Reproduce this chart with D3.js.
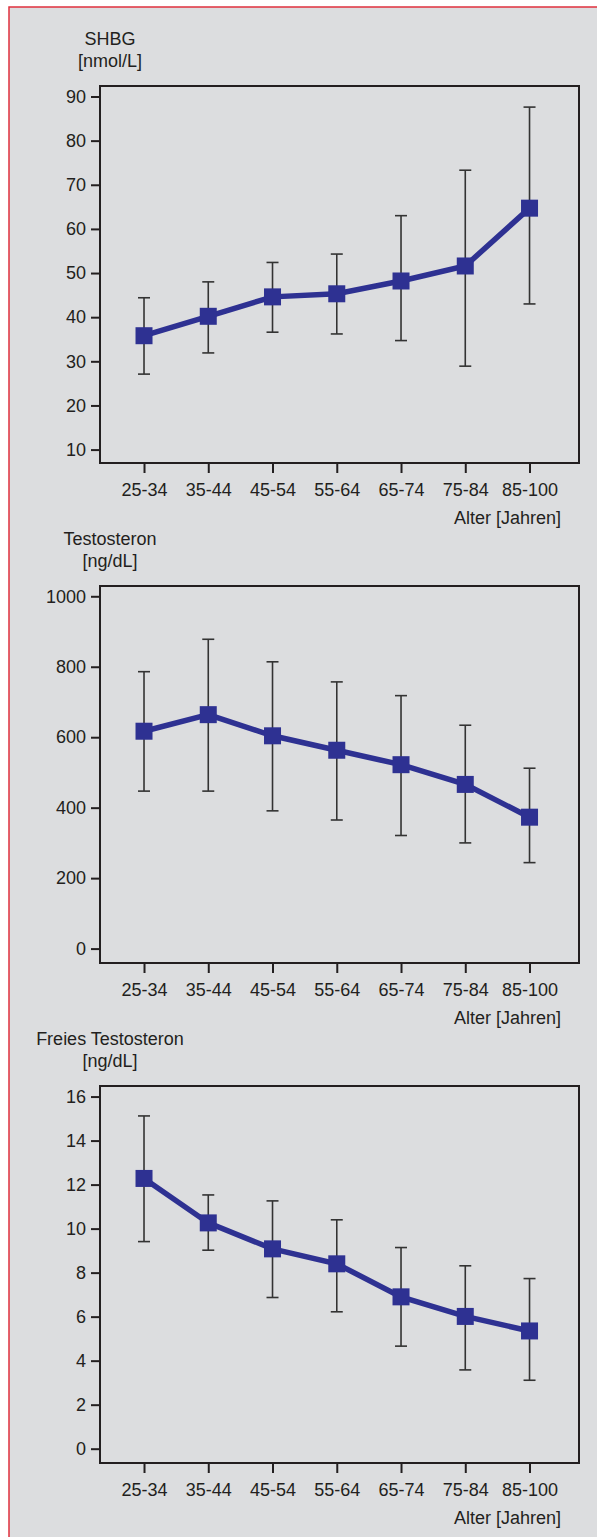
<!DOCTYPE html>
<html>
<head>
<meta charset="utf-8">
<script src="https://d3js.org/d3.v7.min.js"></script>
<style>
  body { margin: 0; background: #fff; }
  svg { display: block; font-family: "Liberation Sans", Arial, Helvetica, sans-serif; }
</style>
</head>
<body>
<div id="chart"></div>
<script>
// age groups (x categories)
const ageGroups = ['25-34', '35-44', '45-54', '55-64', '65-74', '75-84', '85-100'];

// SHBG [nmol/L]
const shbgMean = [35.8, 40.2, 44.6, 45.3, 48.2, 51.6, 64.7];
const shbgLow  = [27.1, 31.9, 36.6, 36.2, 34.7, 28.9, 43.0];
const shbgHigh = [44.4, 48.0, 52.4, 54.3, 63.0, 73.3, 87.6];
const shbgTicks = [10, 20, 30, 40, 50, 60, 70, 80, 90];

// Testosteron [ng/dL]
const testoMean = [617, 664, 604, 563, 522, 466, 373];
const testoLow  = [447, 447, 391, 365, 321, 300, 244];
const testoHigh = [786, 878, 814, 757, 718, 634, 512];
const testoTicks = [0, 200, 400, 600, 800, 1000];

// Freies Testosteron [ng/dL]
const freeMean = [12.28, 10.26, 9.08, 8.40, 6.90, 6.01, 5.35];
const freeLow  = [9.41, 9.02, 6.87, 6.22, 4.66, 3.58, 3.11];
const freeHigh = [15.12, 11.53, 11.26, 10.40, 9.14, 8.31, 7.73];
const freeTicks = [0, 2, 4, 6, 8, 10, 12, 14, 16];

const xLabel = 'Alter [Jahren]';

const panels = [
  { title: ['SHBG', '[nmol/L]'], mean: shbgMean, low: shbgLow, high: shbgHigh, ticks: shbgTicks, domain: [6.96, 92.38] },
  { title: ['Testosteron', '[ng/dL]'], mean: testoMean, low: testoLow, high: testoHigh, ticks: testoTicks, domain: [-40.9, 1029.2] },
  { title: ['Freies Testosteron', '[ng/dL]'], mean: freeMean, low: freeLow, high: freeHigh, ticks: freeTicks, domain: [-0.65, 16.48] }
];

const width = 597, height = 1537;
const plotLeft = 100, plotRight = 579;
const plotH = 377, panelStep = 500, firstTop = 86;
const navy = '#2e3192', ink = '#231f20';

const svg = d3.select('#chart').append('svg')
  .attr('width', width)
  .attr('height', height);

// page background with red border top/left
svg.append('rect')
  .attr('x', 9).attr('y', 7)
  .attr('width', width).attr('height', height)
  .style('fill', '#dcdddf');
svg.append('path')
  .attr('d', `M9,${height} L9,7 L${width},7`)
  .style('fill', 'none')
  .style('stroke', '#e0303e')
  .style('stroke-width', 1.5);

const x = d3.scaleLinear()
  .domain([-0.685, 6.77])
  .range([plotLeft, plotRight]);

panels.forEach((p, pi) => {
  const top = firstTop + pi * panelStep;
  const bottom = top + plotH;
  const g = svg.append('g');

  const y = d3.scaleLinear().domain(p.domain).range([bottom, top]);

  // title
  g.append('text')
    .attr('x', 110).attr('y', top - 41.5)
    .attr('text-anchor', 'middle')
    .style('font-size', '18px').style('fill', ink)
    .text(p.title[0]);
  g.append('text')
    .attr('x', 110).attr('y', top - 19.5)
    .attr('text-anchor', 'middle')
    .style('font-size', '18px').style('fill', ink)
    .text(p.title[1]);

  // y axis
  const yAxis = d3.axisLeft(y).tickValues(p.ticks).tickFormat(d3.format('d'))
    .tickSize(9).tickPadding(5).tickSizeOuter(0);
  const ya = g.append('g')
    .attr('transform', `translate(${plotLeft},0)`)
    .call(yAxis);
  ya.select('.domain').remove();
  ya.selectAll('line').style('stroke', ink).style('stroke-width', 2);
  ya.selectAll('text').style('font-size', '18px').style('fill', ink)
    .style('font-family', '"Liberation Sans", Arial, sans-serif');

  // x axis
  const xAxis = d3.axisBottom(x).tickValues(d3.range(ageGroups.length))
    .tickFormat(i => ageGroups[i]).tickSize(10).tickPadding(10).tickSizeOuter(0);
  const xa = g.append('g')
    .attr('transform', `translate(0,${bottom})`)
    .call(xAxis);
  xa.select('.domain').remove();
  xa.selectAll('line').style('stroke', ink).style('stroke-width', 2);
  xa.selectAll('text').style('font-size', '18px').style('fill', ink)
    .style('font-family', '"Liberation Sans", Arial, sans-serif');

  g.append('text')
    .attr('x', 561).attr('y', bottom + 61)
    .attr('text-anchor', 'end')
    .style('font-size', '18px').style('fill', ink)
    .text(xLabel);

  // frame
  g.append('rect')
    .attr('x', plotLeft).attr('y', top)
    .attr('width', plotRight - plotLeft).attr('height', plotH)
    .style('fill', 'none').style('stroke', ink).style('stroke-width', 2);

  const idx = d3.range(ageGroups.length);

  // error bars
  const eb = g.append('g').style('stroke', '#333').style('stroke-width', 1.6);
  eb.selectAll('line.v').data(idx).enter().append('line')
    .attr('x1', i => x(i)).attr('x2', i => x(i))
    .attr('y1', i => y(p.low[i])).attr('y2', i => y(p.high[i]));
  eb.selectAll('line.hi').data(idx).enter().append('line')
    .attr('x1', i => x(i) - 6).attr('x2', i => x(i) + 6)
    .attr('y1', i => y(p.high[i])).attr('y2', i => y(p.high[i]));
  eb.selectAll('line.lo').data(idx).enter().append('line')
    .attr('x1', i => x(i) - 6).attr('x2', i => x(i) + 6)
    .attr('y1', i => y(p.low[i])).attr('y2', i => y(p.low[i]));

  // mean line
  const line = d3.line().x(i => x(i)).y(i => y(p.mean[i]));
  g.append('path')
    .datum(idx)
    .attr('d', line)
    .style('fill', 'none')
    .style('stroke', navy)
    .style('stroke-width', 5.5)
    .style('stroke-linejoin', 'miter');

  // square markers
  g.selectAll('rect.pt').data(idx).enter().append('rect')
    .attr('x', i => x(i) - 8.5).attr('y', i => y(p.mean[i]) - 8.5)
    .attr('width', 17).attr('height', 17)
    .style('fill', navy);
});
</script>
</body>
</html>
